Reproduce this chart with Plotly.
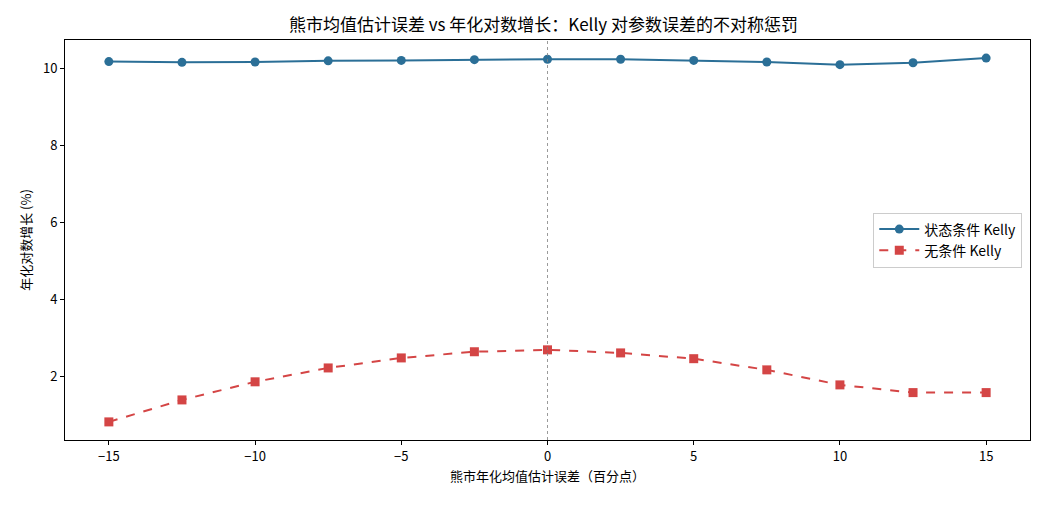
import plotly.graph_objects as go

x_err = [-15, -12.5, -10, -7.5, -5, -2.5, 0, 2.5, 5, 7.5, 10, 12.5, 15]
state_kelly = [10.18, 10.16, 10.17, 10.20, 10.21, 10.23, 10.24, 10.24, 10.21, 10.17, 10.10, 10.15, 10.27]
uncond_kelly = [0.83, 1.40, 1.87, 2.23, 2.49, 2.65, 2.70, 2.62, 2.47, 2.18, 1.79, 1.59, 1.59]

FONT = "Noto Sans CJK SC, Noto Sans, sans-serif"
BLUE = "#2b6f97"
RED = "#d44545"

fig = go.Figure()
fig.add_trace(go.Scatter(x=x_err, y=state_kelly, mode="lines+markers", name="状态条件 Kelly",
                         line=dict(color=BLUE, width=2), marker=dict(symbol="circle", size=9, color=BLUE)))
fig.add_trace(go.Scatter(x=x_err, y=uncond_kelly, mode="lines+markers", name="无条件 Kelly",
                         line=dict(color=RED, width=2, dash="dash"), marker=dict(symbol="square", size=9, color=RED)))
fig.add_vline(x=0, line=dict(color="gray", width=0.8, dash="dot"))

fig.update_layout(
    width=1045, height=505,
    margin=dict(l=65, r=15, t=40, b=65),
    paper_bgcolor="white", plot_bgcolor="white",
    font=dict(family=FONT, size=13, color="black"),
    title=dict(text="熊市均值估计误差 vs 年化对数增长：Kelly 对参数误差的不对称惩罚",
               x=0.52, xanchor="center", y=0.95, yanchor="middle", font=dict(size=17)),
    legend=dict(x=0.992, y=0.5, xanchor="right", yanchor="middle",
                bordercolor="#cccccc", borderwidth=1, bgcolor="rgba(255,255,255,0.8)",
                font=dict(size=14), itemwidth=40),
    showlegend=True,
)
fig.update_xaxes(range=[-16.5, 16.5], tickvals=[-15, -10, -5, 0, 5, 10, 15],
                 ticktext=["−15", "−10", "−5", "0", "5", "10", "15"],
                 showgrid=False, zeroline=False, showline=True, linecolor="black", linewidth=1,
                 mirror=True, ticks="outside", ticklen=4, tickcolor="black",
                 title=dict(text="熊市年化均值估计误差（百分点）", font=dict(size=13), standoff=8))
fig.update_yaxes(range=[0.36, 10.74], tickvals=[2, 4, 6, 8, 10],
                 showgrid=False, zeroline=False, showline=True, linecolor="black", linewidth=1,
                 mirror=True, ticks="outside", ticklen=4, tickcolor="black",
                 title=dict(text="年化对数增长 (%)", font=dict(size=13), standoff=8))

fig.write_html("out.html")
